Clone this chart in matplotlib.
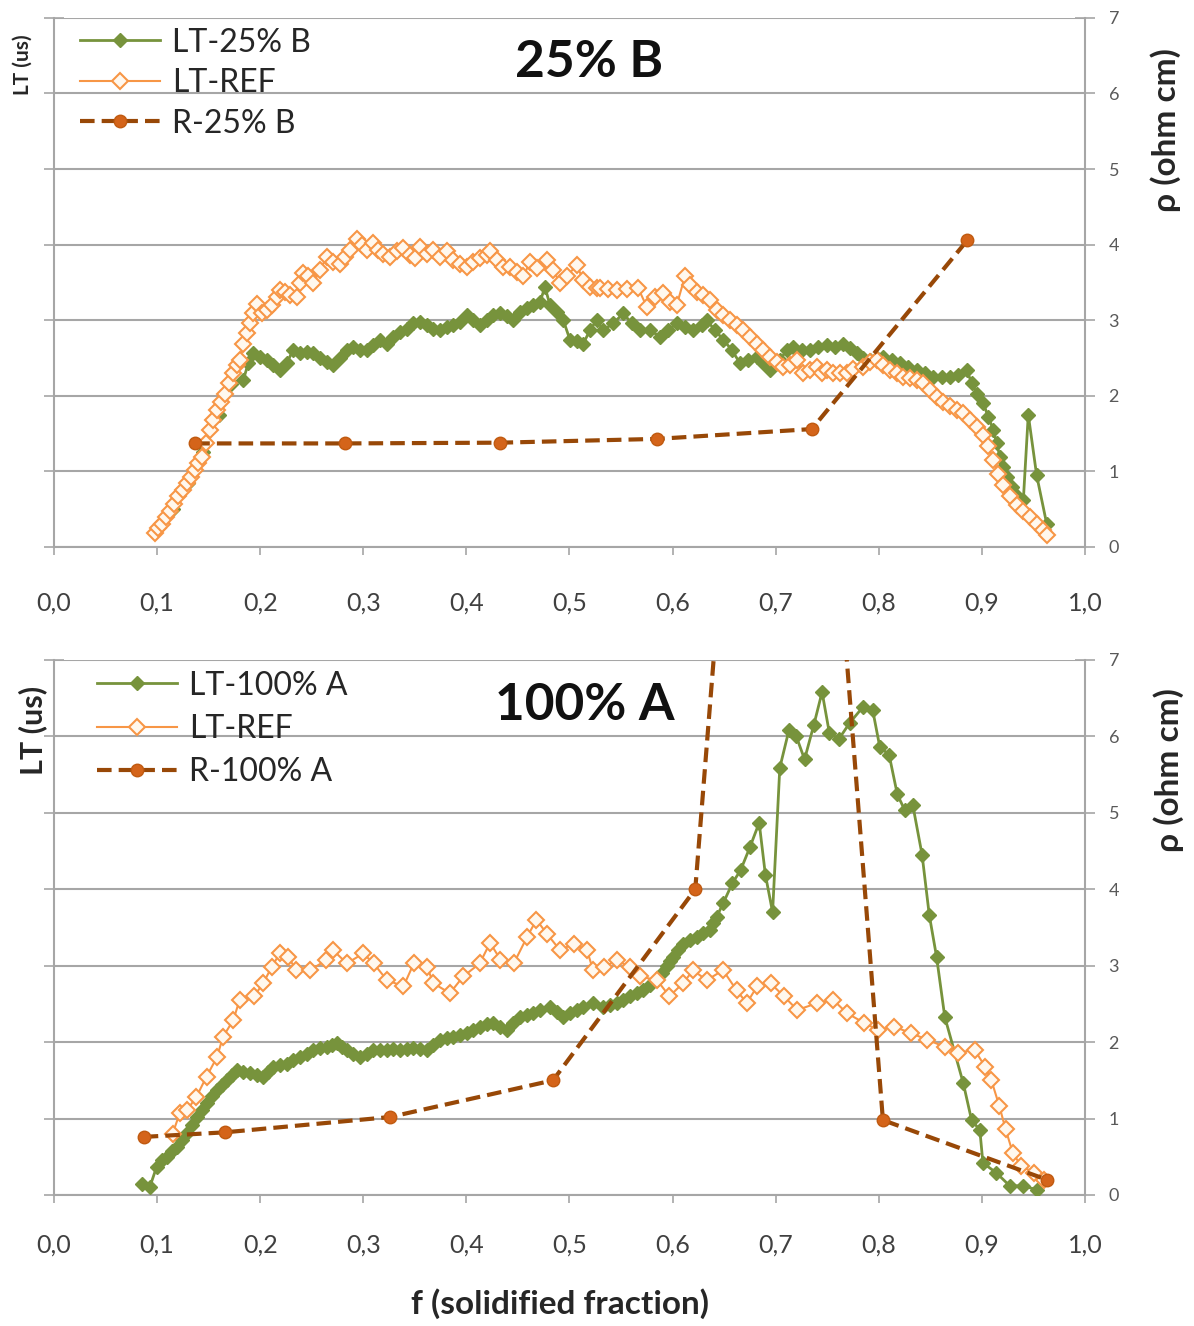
import matplotlib.pyplot as plt
from matplotlib.ticker import FixedLocator

plt.rcParams['font.family'] = ['Lato', 'DejaVu Sans']

# ---- panel 1: 25% B ----
lt_b_x = [0.1, 0.115, 0.13, 0.145, 0.16, 0.172, 0.1836, 0.1885, 0.1933, 0.1998, 0.2063, 0.2127, 0.2192,
          0.2257, 0.2321, 0.2386, 0.2451, 0.2515, 0.258, 0.2645, 0.2709, 0.2774, 0.2839, 0.2903, 0.2968,
          0.3033, 0.3097, 0.3162, 0.3227, 0.3291, 0.3356, 0.3421, 0.3485, 0.355, 0.3615, 0.3679, 0.3744,
          0.3809, 0.3873, 0.3938, 0.4003, 0.4067, 0.4132, 0.4197, 0.4261, 0.4326, 0.4391, 0.4455, 0.452,
          0.4585, 0.4649, 0.4714, 0.4762, 0.4811, 0.4876, 0.494, 0.5005, 0.507, 0.5134, 0.5199, 0.5264,
          0.5328, 0.5425, 0.5522, 0.5603, 0.5684, 0.5781, 0.5878, 0.5958, 0.604, 0.612, 0.6201, 0.6282,
          0.633, 0.6411, 0.6492, 0.6573, 0.6654, 0.6734, 0.6816, 0.688, 0.6945, 0.7042, 0.7107, 0.7171,
          0.7252, 0.7333, 0.7413, 0.7495, 0.7575, 0.7656, 0.7721, 0.7786, 0.785, 0.7915, 0.798, 0.8044,
          0.8125, 0.8206, 0.8286, 0.8368, 0.8448, 0.8529, 0.861, 0.8691, 0.8771, 0.8853, 0.8901, 0.895,
          0.9014, 0.9062, 0.9111, 0.9143, 0.9176, 0.9208, 0.9241, 0.9289, 0.9337, 0.9402, 0.945, 0.9531,
          0.9628]
lt_b_y = [0.25, 0.5, 0.85, 1.25, 1.75, 2.15, 2.21, 2.43, 2.56, 2.52, 2.47, 2.41, 2.34,
          2.43, 2.61, 2.56, 2.58, 2.56, 2.5, 2.45, 2.41, 2.5, 2.61, 2.65, 2.61,
          2.61, 2.67, 2.74, 2.69, 2.78, 2.85, 2.89, 2.96, 2.98, 2.94, 2.89, 2.87,
          2.91, 2.94, 2.98, 3.07, 3.0, 2.94, 3.0, 3.07, 3.09, 3.05, 3.0, 3.11,
          3.16, 3.2, 3.24, 3.44, 3.2, 3.11, 3.0, 2.74, 2.72, 2.69, 2.87, 3.0,
          2.87, 2.96, 3.09, 2.96, 2.87, 2.87, 2.78, 2.87, 2.96, 2.91, 2.87, 2.94,
          3.0, 2.87, 2.74, 2.61, 2.43, 2.47, 2.52, 2.43, 2.34, 2.47, 2.61, 2.65,
          2.61, 2.61, 2.65, 2.67, 2.65, 2.69, 2.63, 2.56, 2.5, 2.47, 2.5, 2.52,
          2.47, 2.43, 2.38, 2.34, 2.3, 2.25, 2.25, 2.25, 2.27, 2.34, 2.17, 2.03,
          1.9, 1.72, 1.55, 1.37, 1.19, 1.06, 0.93, 0.8, 0.67, 0.62, 1.75, 0.95,
          0.31]

ref_b_x = [0.098, 0.1012, 0.1044, 0.1086, 0.1125, 0.1164, 0.1206, 0.1248, 0.1287, 0.1326, 0.1368, 0.14,
           0.1432, 0.1474, 0.1513, 0.1545, 0.1578, 0.1617, 0.1659, 0.17, 0.1739, 0.1772, 0.1804, 0.1836,
           0.1869, 0.1901, 0.1933, 0.1966, 0.2014, 0.2063, 0.2111, 0.216, 0.2192, 0.224, 0.2289, 0.2354,
           0.2386, 0.2418, 0.2467, 0.2515, 0.258, 0.2645, 0.2709, 0.2774, 0.2822, 0.2871, 0.2936, 0.2984,
           0.3033, 0.3097, 0.3146, 0.3194, 0.3259, 0.3324, 0.3388, 0.3453, 0.3501, 0.355, 0.3615, 0.3679,
           0.3744, 0.3809, 0.3873, 0.3938, 0.4003, 0.4067, 0.4132, 0.4197, 0.4229, 0.4294, 0.4358, 0.4423,
           0.4488, 0.4552, 0.4617, 0.4682, 0.4779, 0.4843, 0.4908, 0.4973, 0.507, 0.5134, 0.5199, 0.5264,
           0.5296, 0.5377, 0.5458, 0.5555, 0.5668, 0.5749, 0.5829, 0.591, 0.5975, 0.604, 0.612, 0.6169,
           0.6234, 0.6298, 0.6363, 0.6428, 0.6492, 0.6557, 0.6622, 0.6686, 0.6751, 0.6816, 0.688, 0.6945,
           0.701, 0.7074, 0.7139, 0.7204, 0.7268, 0.7333, 0.7398, 0.7446, 0.7495, 0.7559, 0.7624, 0.7689,
           0.7753, 0.785, 0.7915, 0.798, 0.8044, 0.8109, 0.8174, 0.8238, 0.8303, 0.8368, 0.8432, 0.8497,
           0.8562, 0.8626, 0.8691, 0.8756, 0.882, 0.8885, 0.895, 0.9014, 0.9062, 0.9111, 0.9159, 0.9208,
           0.9273, 0.9337, 0.9402, 0.9467, 0.9531, 0.9596, 0.9628]
ref_b_y = [0.18, 0.25, 0.31, 0.39, 0.47, 0.57, 0.67, 0.75, 0.84, 0.93, 1.02, 1.11,
           1.19, 1.37, 1.55, 1.68, 1.81, 1.92, 2.03, 2.17, 2.3, 2.41, 2.47, 2.69,
           2.83, 2.96, 3.09, 3.22, 3.09, 3.13, 3.2, 3.31, 3.4, 3.38, 3.33, 3.31,
           3.49, 3.62, 3.58, 3.49, 3.66, 3.84, 3.77, 3.75, 3.84, 3.93, 4.08, 3.99,
           3.93, 4.02, 3.93, 3.88, 3.84, 3.91, 3.95, 3.86, 3.82, 3.97, 3.88, 3.93,
           3.84, 3.91, 3.8, 3.75, 3.71, 3.77, 3.82, 3.86, 3.91, 3.8, 3.71, 3.71,
           3.64, 3.58, 3.77, 3.69, 3.8, 3.66, 3.49, 3.58, 3.73, 3.53, 3.44, 3.42,
           3.42, 3.41, 3.4, 3.41, 3.42, 3.18, 3.31, 3.36, 3.24, 3.2, 3.58, 3.47,
           3.38, 3.34, 3.27, 3.13, 3.07, 3.0, 2.94, 2.87, 2.78, 2.69, 2.61, 2.52,
           2.45, 2.38, 2.41, 2.47, 2.3, 2.34, 2.38, 2.3, 2.34, 2.3, 2.3, 2.3,
           2.36, 2.38, 2.45, 2.47, 2.41, 2.34, 2.3, 2.25, 2.23, 2.21, 2.17, 2.08,
           1.99, 1.92, 1.86, 1.81, 1.77, 1.68, 1.59, 1.48, 1.33, 1.15, 0.97, 0.82,
           0.67, 0.56, 0.47, 0.4, 0.31, 0.22, 0.16]

r_b_x = [0.137, 0.282, 0.433, 0.585, 0.735, 0.886]
r_b_y = [1.37, 1.37, 1.38, 1.43, 1.56, 4.06]

# ---- panel 2: 100% A ----
lt_a_x = [0.0851, 0.0931, 0.0996, 0.1044, 0.1093, 0.1141, 0.119, 0.1238, 0.1287, 0.1335, 0.1384, 0.1432,
          0.1481, 0.1529, 0.1578, 0.1626, 0.1675, 0.1723, 0.1772, 0.1836, 0.1901, 0.1966, 0.203, 0.2079,
          0.2127, 0.2192, 0.2257, 0.2321, 0.2386, 0.2451, 0.2515, 0.258, 0.2645, 0.2693, 0.2742, 0.279,
          0.2839, 0.2903, 0.2968, 0.3033, 0.3097, 0.3162, 0.3227, 0.3291, 0.3356, 0.3421, 0.3485, 0.355,
          0.3615, 0.3679, 0.3744, 0.3809, 0.3873, 0.3938, 0.4003, 0.4067, 0.4132, 0.4197, 0.4261, 0.4326,
          0.4391, 0.4455, 0.452, 0.4585, 0.4649, 0.4714, 0.4811, 0.4876, 0.494, 0.5005, 0.507, 0.5134,
          0.5231, 0.5328, 0.5393, 0.5458, 0.5522, 0.5587, 0.5652, 0.5716, 0.5781, 0.5846, 0.5894, 0.5943,
          0.5975, 0.6007, 0.6055, 0.6104, 0.6169, 0.6234, 0.6298, 0.6363, 0.6395, 0.6428, 0.6492, 0.658,
          0.666, 0.675, 0.684, 0.69, 0.697, 0.704, 0.713, 0.72, 0.728, 0.737, 0.745, 0.752,
          0.761, 0.772, 0.785, 0.794, 0.801, 0.81, 0.818, 0.825, 0.833, 0.842, 0.849, 0.856,
          0.864, 0.882, 0.89, 0.898, 0.901, 0.914, 0.927, 0.94, 0.953]
lt_a_y = [0.15, 0.11, 0.37, 0.46, 0.5, 0.57, 0.63, 0.72, 0.81, 0.92, 1.02, 1.11,
          1.2, 1.29, 1.37, 1.44, 1.51, 1.57, 1.64, 1.61, 1.59, 1.57, 1.55, 1.61,
          1.68, 1.7, 1.72, 1.77, 1.81, 1.85, 1.9, 1.92, 1.94, 1.96, 1.99, 1.94,
          1.9, 1.85, 1.81, 1.85, 1.9, 1.9, 1.9, 1.91, 1.9, 1.91, 1.92, 1.91,
          1.9, 1.96, 2.03, 2.05, 2.07, 2.09, 2.12, 2.16, 2.2, 2.24, 2.25, 2.2,
          2.16, 2.25, 2.33, 2.36, 2.38, 2.42, 2.46, 2.4, 2.33, 2.38, 2.42, 2.46,
          2.51, 2.46, 2.49, 2.51, 2.55, 2.6, 2.64, 2.68, 2.75, 2.81, 2.9, 2.99,
          3.06, 3.12, 3.21, 3.29, 3.34, 3.38, 3.43, 3.47, 3.56, 3.64, 3.82, 4.08,
          4.25, 4.55, 4.87, 4.19, 3.7, 5.59, 6.09, 6.0, 5.7, 6.15, 6.58, 6.05,
          5.96, 6.18, 6.39, 6.35, 5.86, 5.76, 5.24, 5.04, 5.1, 4.45, 3.66, 3.12,
          2.33, 1.46, 0.98, 0.85, 0.42, 0.29, 0.12, 0.12, 0.07]

ref_a_x = [0.115, 0.122, 0.129, 0.138, 0.148, 0.158, 0.164, 0.174, 0.18, 0.194, 0.203, 0.211, 0.219,
           0.227, 0.235, 0.248, 0.264, 0.271, 0.284, 0.3, 0.31, 0.323, 0.339, 0.349, 0.362, 0.368,
           0.384, 0.397, 0.413, 0.423, 0.433, 0.446, 0.459, 0.468, 0.478, 0.491, 0.504, 0.517, 0.523,
           0.533, 0.546, 0.559, 0.568, 0.585, 0.597, 0.61, 0.62, 0.633, 0.649, 0.662, 0.672, 0.682,
           0.695, 0.708, 0.721, 0.74, 0.756, 0.769, 0.786, 0.799, 0.815, 0.831, 0.847, 0.864, 0.877,
           0.893, 0.903, 0.909, 0.917, 0.923, 0.93, 0.938, 0.951, 0.96]
ref_a_y = [0.8, 1.07, 1.11, 1.28, 1.55, 1.8, 2.07, 2.29, 2.55, 2.6, 2.77, 2.98, 3.16,
           3.12, 2.94, 2.94, 3.07, 3.2, 3.03, 3.16, 3.03, 2.81, 2.73, 3.03, 2.98, 2.77,
           2.64, 2.86, 3.03, 3.3, 3.08, 3.03, 3.38, 3.6, 3.42, 3.2, 3.29, 3.2, 2.94,
           2.98, 3.07, 2.98, 2.86, 2.81, 2.6, 2.77, 2.94, 2.81, 2.94, 2.68, 2.51, 2.73,
           2.77, 2.6, 2.42, 2.51, 2.55, 2.38, 2.25, 2.16, 2.2, 2.12, 2.03, 1.94, 1.86,
           1.9, 1.68, 1.51, 1.16, 0.86, 0.55, 0.38, 0.29, 0.2]

# 0.705 point lies far above the visible range (line leaves the chart top)
r_a_x = [0.087, 0.166, 0.326, 0.484, 0.622, 0.705, 0.804, 0.963]
r_a_y = [0.76, 0.82, 1.02, 1.5, 4.0, 18.0, 0.98, 0.2]

x_ticks = [i / 10 for i in range(11)]
x_labels = ['0,0', '0,1', '0,2', '0,3', '0,4', '0,5', '0,6', '0,7', '0,8', '0,9', '1,0']
y_ticks = list(range(8))

GREEN = '#77933C'
ORANGE = '#F79646'
BROWN = '#984807'
DOT = '#D4641A'
GRID = '#A6A6A6'

fig = plt.figure(figsize=(11.94, 13.26), dpi=100)
ax1 = fig.add_axes([0.0452, 0.5875, 0.8635, 0.399])
ax2 = fig.add_axes([0.0452, 0.0988, 0.8635, 0.4035])


def draw(ax, lt_x, lt_y, ref_x, ref_y, r_x, r_y, names, title, title_x, xpad, leg_anchor, lspace):
    ax.plot(lt_x, lt_y, color=GREEN, lw=2, marker='D', ms=7, mfc=GREEN, mec=GREEN,
            label=names[0], zorder=3)
    ax.plot(ref_x, ref_y, color=ORANGE, lw=1.5, marker='D', ms=8, mfc='#FFF8EE', mec=ORANGE,
            mew=1.5, label=names[1], zorder=4)
    ax.plot(r_x, r_y, color=BROWN, lw=3, ls=(0, (3.5, 1.7)), marker='o', ms=9, mfc=DOT, mec='#C05A10',
            label=names[2], zorder=5)

    ax.set_xlim(0, 1.0)
    ax.set_ylim(0, 7)
    ax.set_xticks(x_ticks)
    ax.set_xticklabels(x_labels, fontsize=18, color='#404040')
    ax.tick_params(axis='x', length=6, color=GRID, pad=xpad, width=1.2)
    ax.yaxis.set_major_locator(FixedLocator(y_ticks))
    ax.tick_params(axis='y', which='both', direction='inout', length=14, color=GRID, width=1.2,
                   left=True, right=True, labelleft=False, labelright=True,
                   labelsize=13, labelcolor='#595959', pad=10)
    ax.grid(axis='y', color=GRID, lw=1.5)
    for side in ['left', 'right', 'bottom']:
        ax.spines[side].set_color(GRID)
        ax.spines[side].set_linewidth(1.5)
    ax.spines['top'].set_visible(False)
    ax.set_axisbelow(True)

    ax.text(title_x, 0.915, title, transform=ax.transAxes, ha='center', va='center',
            fontsize=37, fontweight='bold', color='#111111')
    leg = ax.legend(loc='upper left', bbox_to_anchor=leg_anchor, borderaxespad=0, frameon=False,
                    fontsize=23, handlelength=2.5, handletextpad=0.38, labelspacing=lspace,
                    numpoints=1)
    for t in leg.get_texts():
        t.set_color('#262626')


draw(ax1, lt_b_x, lt_b_y, ref_b_x, ref_b_y, r_b_x, r_b_y,
     ['LT-25% B', 'LT-REF', 'R-25% B'], '25% B', 0.519, 26, (0.0127, 1.006), 0.33)
draw(ax2, lt_a_x, lt_a_y, ref_a_x, ref_a_y, r_a_x, r_a_y,
     ['LT-100% A', 'LT-REF', 'R-100% A'], '100% A', 0.5145, 22, (0.029, 1.004), 0.42)

fig.text(0.019, 0.951, 'LT (us)', rotation=90, ha='center', va='center',
         fontsize=15, fontweight='bold', color='#262626')
fig.text(0.027, 0.449, 'LT (us)', rotation=90, ha='center', va='center',
         fontsize=22, fontweight='bold', color='#262626')
fig.text(0.976, 0.902, 'ρ (ohm cm)', rotation=90, ha='center', va='center',
         fontsize=24, fontweight='bold', color='#262626')
fig.text(0.979, 0.419, 'ρ (ohm cm)', rotation=90, ha='center', va='center',
         fontsize=24, fontweight='bold', color='#262626')
fig.text(0.469, 0.017, 'f (solidified fraction)', ha='center', va='center',
         fontsize=24, fontweight='bold', color='#262626')

fig.savefig('out.png', dpi=100, facecolor='white')
